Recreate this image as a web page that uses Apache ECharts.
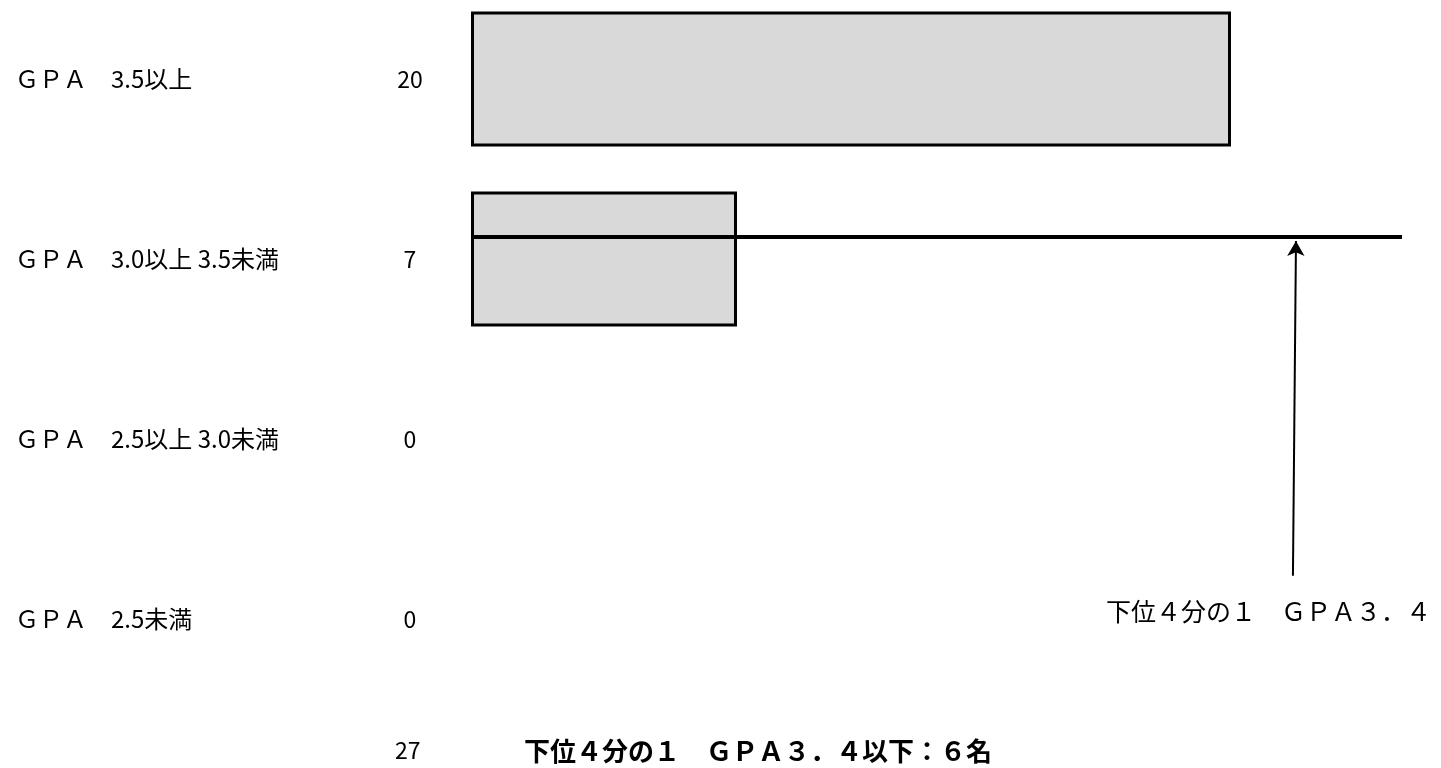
<!DOCTYPE html>
<html>
<head>
<meta charset="utf-8">
<script src="https://cdn.jsdelivr.net/npm/echarts@6/dist/echarts.min.js"></script>
<style>
html,body{margin:0;padding:0;background:#fff;}
#chart{width:1441px;height:768px;}
</style>
</head>
<body>
<div id="chart"></div>
<script>
// ---- data ----
const categories = ['ＧＰＡ　3.5以上', 'ＧＰＡ　3.0以上 3.5未満', 'ＧＰＡ　2.5以上 3.0未満', 'ＧＰＡ　2.5未満'];
const counts = [20, 7, 0, 0];
const countLabels = ['20', '7', '0', '0'];
const totalLabel = '27';
const quartileNote = '下位４分の１　ＧＰＡ３．４';
const summaryText = '下位４分の１　ＧＰＡ３．４以下：６名';
// quartile line (row position in category units) and arrow pointing at it
const quartileLine = [[0, 0.878], [24.5, 0.878]];
const quartileArrow = [[21.63, 2.76], [21.71, 0.9]];

const FONT = "'Noto Sans CJK JP', 'Noto Sans', sans-serif";

const barData = counts.map(function (v) {
  return v === 0 ? {value: v, itemStyle: {borderWidth: 0}} : v;
});

const chart = echarts.init(document.getElementById('chart'), null, {renderer: 'canvas'});
chart.setOption({
  animation: false,
  backgroundColor: '#ffffff',
  title: [
    {text: totalLabel, left: 395, top: 739, padding: 0,
     textStyle: {fontFamily: FONT, fontSize: 23, fontWeight: 'normal', color: '#000'}},
    {text: summaryText, left: 524, top: 738, padding: 0,
     textStyle: {fontFamily: FONT, fontSize: 26, fontWeight: 'bold', color: '#000'}},
    {text: quartileNote, left: 1106, top: 599, padding: 0,
     textStyle: {fontFamily: FONT, fontSize: 25, fontWeight: 'normal', color: '#000'}}
  ],
  grid: {left: 471, top: -11, width: 950, height: 720, containLabel: false, outerBoundsMode: 'none'},
  xAxis: [{
    type: 'value', min: 0, max: 25, show: false
  }],
  yAxis: [
    {
      type: 'category', data: categories, inverse: true,
      axisLine: {show: false}, axisTick: {show: false}, splitLine: {show: false},
      axisLabel: {margin: 456, align: 'left', fontFamily: FONT, fontSize: 24, color: '#000'}
    },
    {
      type: 'category', data: countLabels, inverse: true, position: 'left',
      axisLine: {show: false}, axisTick: {show: false}, splitLine: {show: false},
      axisLabel: {margin: 61, align: 'center', fontFamily: FONT, fontSize: 23, color: '#000'}
    },
    {
      type: 'value', min: -0.5, max: 3.5, inverse: true, show: false
    }
  ],
  series: [
    {
      type: 'bar', xAxisIndex: 0, yAxisIndex: 0,
      data: barData,
      barCategoryGap: '25%',
      itemStyle: {color: '#d9d9d9', borderColor: '#000', borderWidth: 3},
      silent: true
    },
    {
      type: 'line', xAxisIndex: 0, yAxisIndex: 2, data: [],
      silent: true,
      markLine: {
        silent: true, animation: false,
        label: {show: false},
        data: [
          [{coord: quartileLine[0], symbol: 'none', lineStyle: {color: '#000', width: 4, type: 'solid'}},
           {coord: quartileLine[1], symbol: 'none'}],
          [{coord: quartileArrow[0], symbol: 'none', lineStyle: {color: '#000', width: 2, type: 'solid'}},
           {coord: quartileArrow[1], symbol: 'arrow', symbolSize: [13, 15]}]
        ]
      }
    }
  ]
});
</script>
</body>
</html>
